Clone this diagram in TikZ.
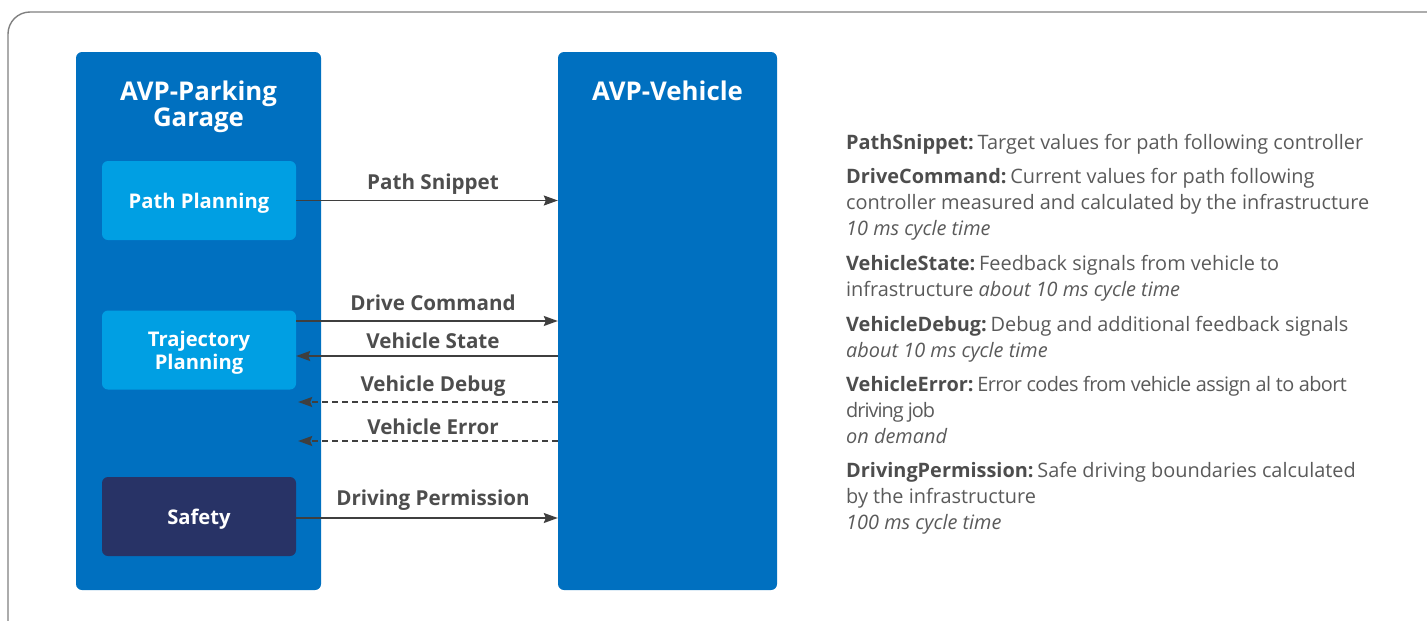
\documentclass[tikz,border=0pt]{standalone}
\usepackage{fontspec}
\setmainfont{Open Sans}
\usetikzlibrary{arrows.meta,calc}
\definecolor{boxblue}{HTML}{0070C0}
\definecolor{lightblue}{HTML}{009FE3}
\definecolor{navy}{HTML}{283366}
\definecolor{txtgray}{HTML}{5A5A5A}
\definecolor{headgray}{HTML}{4D4D4D}
\definecolor{arrgray}{HTML}{3F3F3F}
\definecolor{framegray}{HTML}{808080}
% bold lead-in of a legend entry, followed by a narrow gap
\newcommand{\hd}[1]{{\color{headgray}\bfseries #1}\hspace{3.8pt}}
\begin{document}
\begin{tikzpicture}[x=1pt,y=-1pt,
  outerbox/.style={fill=boxblue,rounded corners=6pt,inner sep=0pt},
  innerbox/.style={rounded corners=6pt,inner sep=0pt,minimum width=194pt,minimum height=79pt},
  boxtext/.style={text=white,align=center,inner sep=0pt,yshift=-2.5pt,
    font=\fontsize{20.2}{23}\selectfont\bfseries},
  title/.style={text=white,align=center,font=\fontsize{25.8}{26.5}\selectfont\bfseries},
  flow/.style={draw=arrgray,line width=1.4pt,-{Stealth[length=14pt,width=10pt,inset=2pt]}},
  flowlbl/.style={text=headgray,font=\fontsize{20.6}{24}\selectfont\bfseries,inner sep=0pt},
  legend/.style={anchor=north west,inner sep=0pt,align=left,text=txtgray,
    font=\fontsize{19.9}{26}\selectfont}]
\useasboundingbox (0,0) rectangle (1427,621);

% outer frame, open towards the right and bottom
\draw[framegray,line width=1.4pt] (8,621) -- (8,34) arc[start angle=180,end angle=270,radius=22] -- (1427,12);

% the two systems
\node[outerbox,minimum width=245pt,minimum height=538pt] (garage) at (198.5,321) {};
\node[outerbox,minimum width=219pt,minimum height=538pt] (veh) at (667.5,321) {};
\node[title] (gtitle) at (198.5,107) {AVP-Parking\\Garage};
\node[title] (vtitle) at (667.5,91) {AVP-Vehicle};

% components of the parking garage
\node[innerbox,fill=lightblue,label={[boxtext]center:Path Planning}] (path) at (199,200.5) {};
\node[innerbox,fill=lightblue,label={[boxtext]center:{Trajectory\\Planning}}] (traj) at (199,350) {};
\node[innerbox,fill=navy,label={[boxtext]center:Safety}] (safety) at (199,516.5) {};

% signals
\draw[flow] (path.east) -- (veh.west |- path.east);
\draw[flow] ([yshift=29pt]traj.east) -- (veh.west |- {$(traj.east)+(0,-29)$});
\draw[flow] (veh.west |- {$(traj.east)+(0,6)$}) -- ([yshift=-6pt]traj.east);
\draw[flow,dash pattern=on 6pt off 4pt] (veh.west |- {$(traj.east)+(0,52)$}) -- ($(traj.east)+(2,52)$);
\draw[flow,dash pattern=on 6pt off 4pt] (veh.west |- {$(traj.east)+(0,91)$}) -- ($(traj.east)+(2,91)$);
\draw[flow] ([yshift=-1.5pt]safety.east) -- (veh.west |- {$(safety.east)+(0,1.5)$});

\node[flowlbl] (lps) at (433,184.5) {Path Snippet};
\node[flowlbl] (ldc) at (433,302.5) {Drive Command};
\node[flowlbl] (lvs) at (433,341) {Vehicle State};
\node[flowlbl] (lvd) at (433,386.5) {Vehicle Debug};
\node[flowlbl] (lve) at (433,426.5) {Vehicle Error};
\node[flowlbl] (ldp) at (433,500.5) {Driving Permission};

% legend
\node[legend] (d1) at (846,134) {\rule{0pt}{15.5pt}\hd{PathSnippet:}Target values for path following controller};
\node[legend] (d2) at (846,168) {\rule{0pt}{15.5pt}\hd{DriveCommand:}Current values for path following\\controller measured and calculated by the infrastructure\\\textit{10 ms cycle time}};
\node[legend] (d3) at (846,255) {\rule{0pt}{15.5pt}\hd{VehicleState:}Feedback signals from vehicle to\\infrastructure \textit{about 10 ms cycle time}};
\node[legend] (d4) at (846,316) {\rule{0pt}{15.5pt}\hd{VehicleDebug:}Debug and additional feedback signals\\\textit{about 10 ms cycle time}};
\node[legend] (d5) at (846,376) {\rule{0pt}{15.5pt}\hd{VehicleError:}{\addfontfeature{LetterSpace=-3}Error codes from vehicle assign al to abort}\\{\addfontfeature{LetterSpace=-5}driving job}\\\textit{on demand}};
\node[legend] (d6) at (846,462) {\rule{0pt}{15.5pt}\hd{DrivingPermission:}Safe driving boundaries calculated\\by the infrastructure\\\textit{100 ms cycle time}};
\end{tikzpicture}
\end{document}
